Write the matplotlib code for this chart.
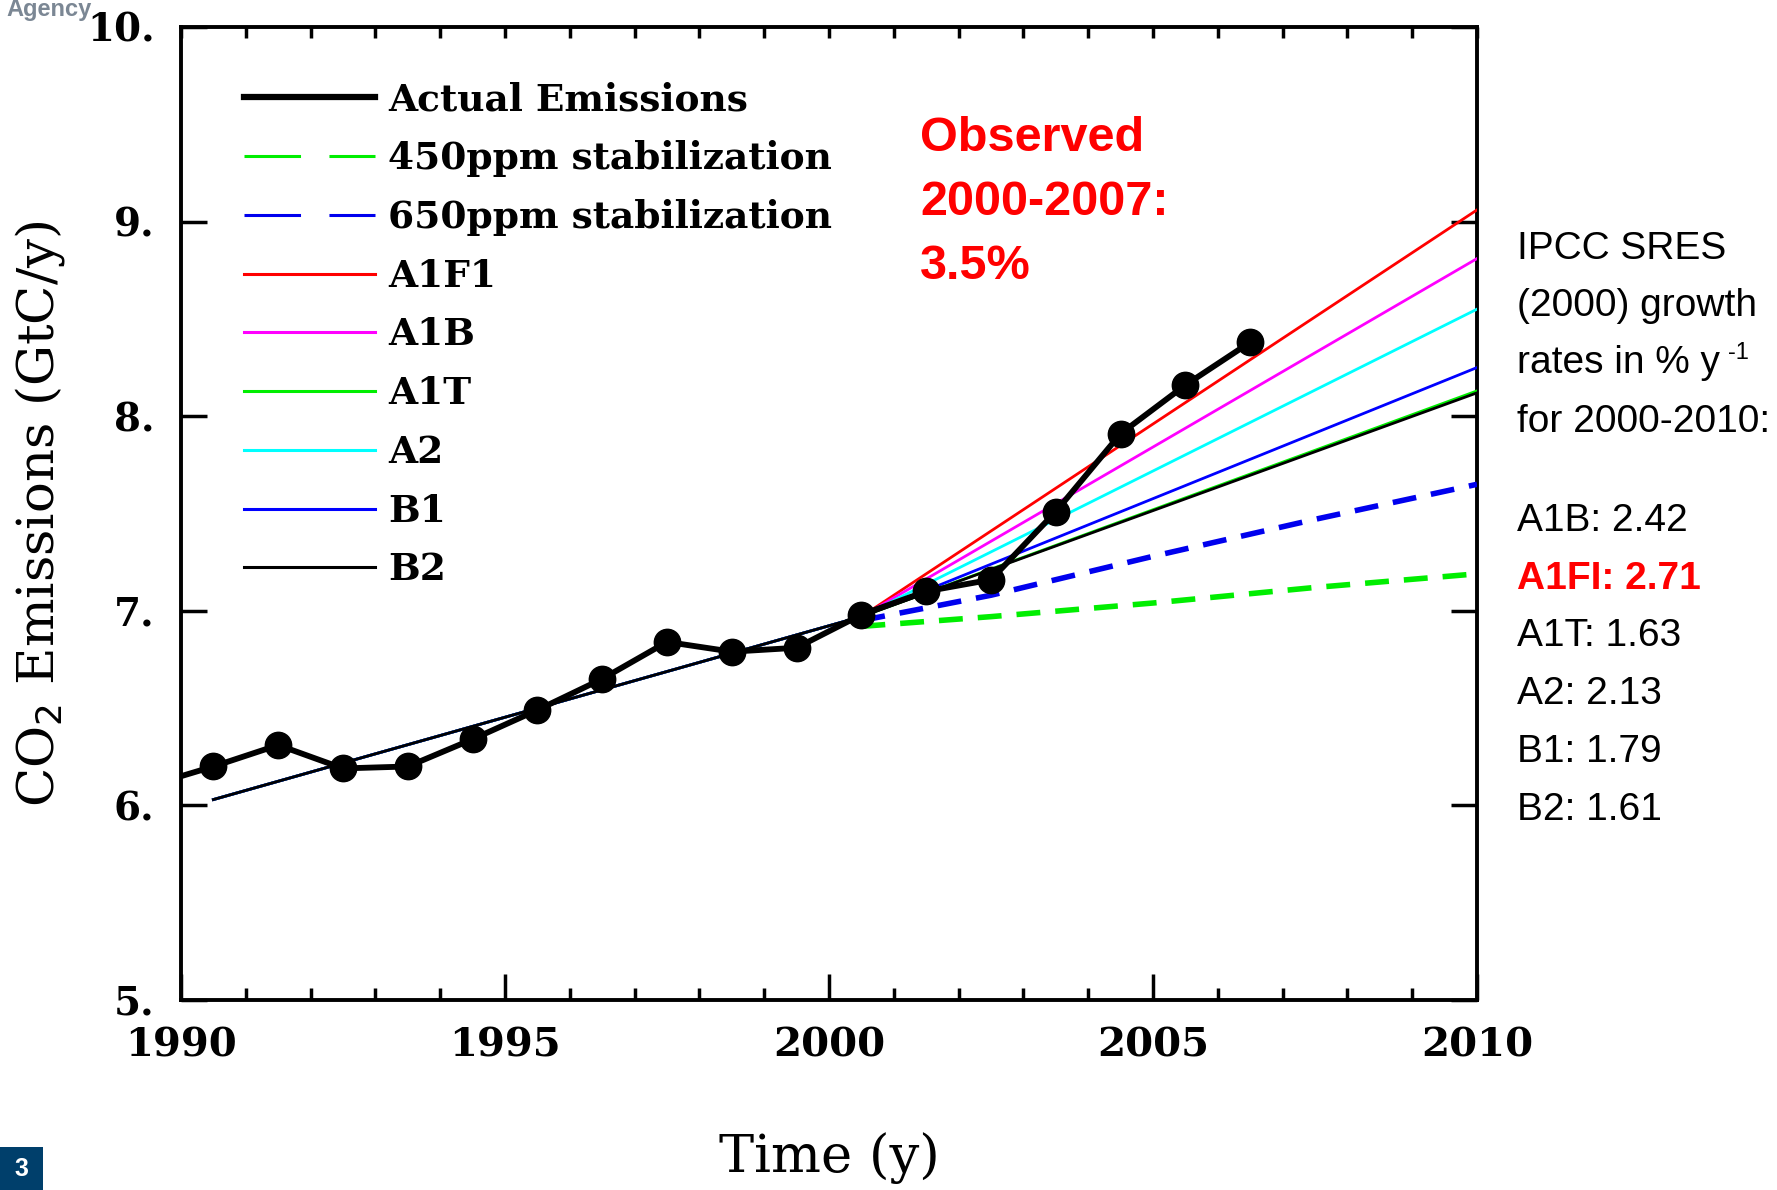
import matplotlib
matplotlib.use("Agg")
import matplotlib.pyplot as plt
from matplotlib.ticker import MultipleLocator, FuncFormatter
from matplotlib.patches import Rectangle

# actual emissions (GtC/y), plotted at mid-year
actual_years = [1989.5, 1990.5, 1991.5, 1992.5, 1993.5, 1994.5, 1995.5, 1996.5, 1997.5,
                1998.5, 1999.5, 2000.5, 2001.5, 2002.5, 2003.5, 2004.5, 2005.5, 2006.5]
actual_vals = [6.10, 6.20, 6.31, 6.19, 6.20, 6.34, 6.49, 6.65, 6.84,
               6.79, 6.81, 6.98, 7.10, 7.16, 7.51, 7.91, 8.16, 8.38]

# SRES scenarios: shared history then divergence to 2010
scen_years = [1990.5, 2000.5, 2010]
scen_names = ['A1F1', 'A1B', 'A1T', 'A2', 'B1', 'B2']
scen_colors = ['#ff0000', '#ff00ff', '#00ee00', '#00ffff', '#0000ff', '#000000']
scen_vals = {
    'A1F1': [6.03, 6.97, 9.06],
    'A1B': [6.03, 6.97, 8.81],
    'A1T': [6.03, 6.97, 8.13],
    'A2': [6.03, 6.97, 8.55],
    'B1': [6.03, 6.97, 8.25],
    'B2': [6.03, 6.97, 8.12],
}

# stabilization pathways
stab_years = [2000.5, 2002.5, 2005, 2007.5, 2010]
stab_450 = [6.92, 6.97, 7.04, 7.12, 7.19]
stab_650 = [6.95, 7.08, 7.28, 7.47, 7.65]

observed_lines = ['Observed', '2000-2007:', '3.5%']
header_lines = ['IPCC SRES', '(2000) growth', 'rates in % y', 'for 2000-2010:']
growth_lines = ['A1B: 2.42', 'A1FI: 2.71', 'A1T: 1.63', 'A2: 2.13', 'B1: 1.79', 'B2: 1.61']

serif = 'DejaVu Serif'
sans = ['Liberation Sans', 'DejaVu Sans']

fig = plt.figure(figsize=(17.77, 11.90), dpi=100)
ax = fig.add_axes([181 / 1777, 190 / 1190, 1296 / 1777, 973 / 1190])

ax.plot(actual_years, actual_vals, '-', color='black', lw=4.2, zorder=10, label='Actual Emissions')
ax.plot(stab_years, stab_450, color='#00ee00', lw=4, dashes=(4.3, 2.7), label='450ppm stabilization', zorder=4)
ax.plot(stab_years, stab_650, color='#0000ee', lw=4, dashes=(4.3, 2.7), label='650ppm stabilization', zorder=4)
for name, col in zip(scen_names, scen_colors):
    ax.plot(scen_years, scen_vals[name], color=col, lw=2.0, label=name, zorder=5)
ax.plot(actual_years, actual_vals, 'o', color='black', ms=19, zorder=11)

ax.set_xlim(1990, 2010)
ax.set_ylim(5, 10)
ax.xaxis.set_major_locator(MultipleLocator(5))
ax.xaxis.set_minor_locator(MultipleLocator(1))
ax.yaxis.set_major_locator(MultipleLocator(1))
ax.yaxis.set_major_formatter(FuncFormatter(lambda v, p: '%d.' % v))

for s in ax.spines.values():
    s.set_linewidth(2.8)
ax.tick_params(axis='x', which='major', direction='in', length=19, width=2.5, pad=19,
               labelsize=29, bottom=True, top=False)
ax.tick_params(axis='x', which='minor', direction='in', length=9, width=2.5, bottom=True, top=False)
ax.tick_params(axis='y', which='major', direction='in', length=19, width=2.5, pad=19,
               labelsize=28, left=True, right=True)
for lab in ax.get_xticklabels() + ax.get_yticklabels():
    lab.set_family(serif)
    lab.set_fontweight('bold')

# short ticks every year along the top
top = ax.secondary_xaxis('top')
top.xaxis.set_major_locator(MultipleLocator(1))
top.tick_params(direction='in', length=8, width=2.5, labeltop=False)

ax.set_xlabel('Time (y)', family=serif, fontsize=38)
ax.xaxis.set_label_coords(0.5, -0.162)
ax.xaxis.label.set_va('center')
ax.set_ylabel('CO$_2$ Emissions (GtC/y)', family=serif, fontsize=37)
ax.yaxis.set_label_coords(-0.109, 0.5)
ax.yaxis.label.set_va('center')

leg = ax.legend(loc='upper left', bbox_to_anchor=(0.0486, 0.944), frameon=False,
                borderpad=0, borderaxespad=0, handlelength=3.5, handletextpad=0.35,
                labelspacing=0.58, prop={'family': serif, 'weight': 'bold', 'size': 27})
for i, ln in enumerate(leg.get_lines()):
    ln.set_linewidth(4.5 if i == 0 else 2.2)
    if i in (1, 2):
        ln.set_linestyle((0, (18.5, 9.3)))

# observed growth note
obs_base = [151, 215, 279]
for t, yb in zip(observed_lines, obs_base):
    fig.text(920 / 1777, 1 - yb / 1190, t, color='#ff0000', fontsize=35, fontweight='bold',
             family=sans, va='baseline', ha='left')

# right-hand SRES growth rates
head_y = [259, 316, 373, 432]
for t, yb in zip(header_lines, head_y):
    txt = fig.text(1517 / 1777, 1 - yb / 1190, t, fontsize=28, family=sans, va='baseline')
    if t.startswith('rates'):
        # superscript "-1" set after the "y"
        ax.annotate('-1', xy=(1, 1), xycoords=txt, xytext=(6, 2), textcoords='offset points',
                    fontsize=17, family=sans, va='top', ha='left', annotation_clip=False)
for i, t in enumerate(growth_lines):
    yb = 531 + i * 57.7
    red = t.startswith('A1FI')
    fig.text(1517 / 1777, 1 - yb / 1190, t, fontsize=28, family=sans, va='baseline',
             color='#ff0000' if red else 'black', fontweight='bold' if red else 'normal')

# slide remnants
fig.text(6 / 1777, 1 - 16 / 1190, 'Agency', fontsize=17, family='Liberation Sans', fontweight='bold',
         color='#7b8794', va='baseline')
fig.patches.append(Rectangle((0, 0), 43 / 1777, 43 / 1190, transform=fig.transFigure,
                             facecolor='#003f6b', edgecolor='none'))
fig.text(21 / 1777, 21 / 1190, '3', fontsize=18, family='Liberation Sans', fontweight='bold',
         color='white', ha='center', va='center')

fig.savefig('out.png', dpi=100)
